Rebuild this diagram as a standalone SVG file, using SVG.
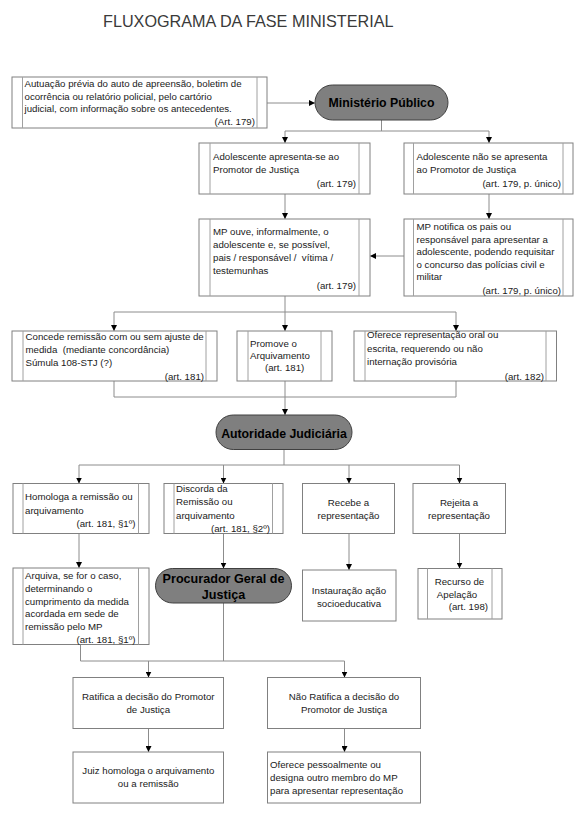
<svg xmlns="http://www.w3.org/2000/svg" width="587" height="815" viewBox="0 0 587 815">
<style>
text{font-family:'Liberation Sans',Arial,sans-serif;font-size:9.7px;fill:#1a1a1a;white-space:pre}
.t{font-size:16.2px;fill:#3a3a3a}
.b{fill:#fff;stroke:#808080;stroke-width:1}
.il{stroke:#a0a0a0;stroke-width:1}
.p{fill:#7f7f7f;stroke:#404040;stroke-width:1}
.pt{font-weight:bold;font-size:12.3px;fill:#000;text-anchor:middle}
.pg{font-size:12.6px}
.c{text-anchor:middle}
.e{text-anchor:end}
.cn path{fill:none;stroke:#8c8c8c;stroke-width:1}
.cn .a{marker-end:url(#ah)}
</style>
<defs>
<marker id="ah" viewBox="0 0 10 10" refX="10" refY="5" markerWidth="6" markerHeight="6" markerUnits="userSpaceOnUse" orient="auto">
<path d="M0,0 L10,5 L0,10 z" fill="#000"/>
</marker>
</defs>
<rect width="587" height="815" fill="#fff"/>
<text class="t" x="103" y="27">FLUXOGRAMA DA FASE MINISTERIAL</text>

<g class="cn" id="connectors">
<path class="a" d="M267,103 H315"/>
<path d="M381.5,120 V131 M285,131 H489"/>
<path class="a" d="M285,131 V143"/>
<path class="a" d="M489,131 V143"/>
<path class="a" d="M285,194 V219"/>
<path class="a" d="M489,194 V219"/>
<path class="a" d="M404,256 H370"/>
<path d="M285,296 V312 M114,312 H456"/>
<path class="a" d="M114,312 V331"/>
<path class="a" d="M285,312 V331"/>
<path class="a" d="M456,312 V331"/>
<path d="M114,381 V397 H456 V381"/>
<path class="a" d="M285,381 V415"/>
<path d="M284,449 V465 M79,465 H459.5"/>
<path class="a" d="M79,465 V483.5"/>
<path class="a" d="M223.5,465 V483.5"/>
<path class="a" d="M349,465 V483.5"/>
<path class="a" d="M459.5,465 V483.5"/>
<path class="a" d="M79,533.5 V568"/>
<path class="a" d="M223.5,533.5 V568.5"/>
<path class="a" d="M349,533.5 V570"/>
<path class="a" d="M459.5,533.5 V568.5"/>
<path d="M80.5,644.5 V661 H344.5 M223.5,603 V661"/>
<path class="a" d="M148.5,661 V677.5"/>
<path class="a" d="M344.5,661 V677.5"/>
<path class="a" d="M148.5,728.5 V752"/>
<path class="a" d="M344.5,728.5 V752"/>
</g>

<g id="n-autuacao">
<rect class="b" x="12" y="77" width="255" height="51"/>
<path class="il" d="M22.5,77 V128 M257,77 V128"/>
<text x="24.5" y="87">Autuação prévia do auto de apreensão, boletim de</text>
<text x="24.5" y="99.5">ocorrência ou relatório policial, pelo cartório</text>
<text x="24.5" y="112">judicial, com informação sobre os antecedentes.</text>
<text class="e" x="255" y="125">(Art. 179)</text>
</g>

<g id="n-ministerio-publico">
<rect class="p" x="315" y="85" width="133" height="35" rx="17.5"/>
<text class="pt" x="381.5" y="107">Ministério Público</text>
</g>

<g id="n-apresenta">
<rect class="b" x="199" y="143" width="171" height="51"/>
<path class="il" d="M210,143 V194 M359,143 V194"/>
<text x="213" y="159.5">Adolescente apresenta-se ao</text>
<text x="213" y="172.5">Promotor de Justiça</text>
<text class="e" x="356" y="187">(art. 179)</text>
</g>

<g id="n-nao-apresenta">
<rect class="b" x="404" y="143" width="169" height="51"/>
<path class="il" d="M413.5,143 V194 M563,143 V194"/>
<text x="416.5" y="159.5">Adolescente não se apresenta</text>
<text x="416.5" y="172.5">ao Promotor de Justiça</text>
<text class="e" x="561" y="187">(art. 179, p. único)</text>
</g>

<g id="n-mp-ouve">
<rect class="b" x="199" y="219" width="171" height="77"/>
<path class="il" d="M210,219 V296 M359,219 V296"/>
<text x="213" y="234.5">MP ouve, informalmente, o</text>
<text x="213" y="247.5">adolescente e, se possível,</text>
<text x="213" y="260.5">pais / responsável /  vítima /</text>
<text x="213" y="273.5">testemunhas</text>
<text class="e" x="356" y="289">(art. 179)</text>
</g>

<g id="n-mp-notifica">
<rect class="b" x="404" y="219" width="169" height="77"/>
<path class="il" d="M413.5,219 V296 M563,219 V296"/>
<text x="416.5" y="230">MP notifica os pais ou</text>
<text x="416.5" y="242.5">responsável para apresentar a</text>
<text x="416.5" y="255">adolescente, podendo requisitar</text>
<text x="416.5" y="267.5">o concurso das polícias civil e</text>
<text x="416.5" y="280">militar</text>
<text class="e" x="561" y="293.5">(art. 179, p. único)</text>
</g>

<g id="n-concede">
<rect class="b" x="12" y="331" width="205" height="50"/>
<path class="il" d="M23,331 V381 M206,331 V381"/>
<text x="25.5" y="339.5">Concede remissão com ou sem ajuste de</text>
<text x="25.5" y="353">medida  (mediante concordância)</text>
<text x="25.5" y="366">Súmula 108-STJ (?)</text>
<text class="e" x="204" y="379.5">(art. 181)</text>
</g>

<g id="n-promove">
<rect class="b" x="237" y="331" width="95" height="50"/>
<path class="il" d="M248,331 V381 M321,331 V381"/>
<text x="250" y="347">Promove o</text>
<text x="250" y="359">Arquivamento</text>
<text x="265" y="370.5">(art. 181)</text>
</g>

<g id="n-oferece">
<rect class="b" x="354" y="331" width="202.5" height="50"/>
<path class="il" d="M365,331 V381 M546,331 V381"/>
<text x="367" y="338">Oferece representação oral ou</text>
<text x="367" y="351.5">escrita, requerendo ou não</text>
<text x="367" y="365">internação provisória</text>
<text class="e" x="544" y="379.5">(art. 182)</text>
</g>

<g id="n-autoridade-judiciaria">
<rect class="p" x="216" y="415" width="136" height="34.5" rx="17.25"/>
<text class="pt" x="284" y="437.5">Autoridade Judiciária</text>
</g>

<g id="n-homologa">
<rect class="b" x="13" y="483.5" width="136" height="50"/>
<path class="il" d="M23,483.5 V533.5 M138.5,483.5 V533.5"/>
<text x="25" y="500">Homologa a remissão ou</text>
<text x="25" y="513.5">arquivamento</text>
<text class="e" x="135.5" y="527">(art. 181, §1º)</text>
</g>

<g id="n-discorda">
<rect class="b" x="164" y="483.5" width="119" height="50"/>
<path class="il" d="M174,483.5 V533.5 M272.5,483.5 V533.5"/>
<text x="176" y="491.5">Discorda da</text>
<text x="176" y="505">Remissão ou</text>
<text x="176" y="518.5">arquivamento</text>
<text class="e" x="270" y="531.5">(art. 181, §2º)</text>
</g>

<g id="n-recebe">
<rect class="b" x="302.5" y="483.5" width="92" height="50"/>
<text class="c" x="348.5" y="506">Recebe a</text>
<text class="c" x="348.5" y="519">representação</text>
</g>

<g id="n-rejeita">
<rect class="b" x="413" y="483.5" width="92.5" height="50"/>
<text class="c" x="459" y="506">Rejeita a</text>
<text class="c" x="459" y="519">representação</text>
</g>

<g id="n-arquiva">
<rect class="b" x="13" y="568" width="136" height="76.5"/>
<path class="il" d="M23,568 V644.5 M138.5,568 V644.5"/>
<text x="25" y="578.5">Arquiva, se for o caso,</text>
<text x="25" y="591.5">determinando o</text>
<text x="25" y="604.5">cumprimento da medida</text>
<text x="25" y="617">acordada em sede de</text>
<text x="25" y="630">remissão pelo MP</text>
<text class="e" x="135.5" y="642.5">(art. 181, §1º)</text>
</g>

<g id="n-procurador-geral">
<rect class="p" x="155.5" y="568.5" width="136" height="34.5" rx="17.25"/>
<text class="pt pg" x="223.5" y="583">Procurador Geral de</text>
<text class="pt pg" x="223.5" y="598.5">Justiça</text>
</g>

<g id="n-instauracao">
<rect class="b" x="302.5" y="570" width="93.5" height="51"/>
<text class="c" x="349" y="593.5">Instauração ação</text>
<text class="c" x="349" y="607">socioeducativa</text>
</g>

<g id="n-recurso">
<rect class="b" x="418" y="568.5" width="84" height="50.5"/>
<path class="il" d="M427.5,568.5 V619 M492,568.5 V619"/>
<text class="c" x="459.5" y="584.5">Recurso de</text>
<text class="c" x="457" y="597.5">Apelação</text>
<text class="e" x="488" y="610">(art. 198)</text>
</g>

<g id="n-ratifica">
<rect class="b" x="73" y="677.5" width="150.5" height="51"/>
<text class="c" x="148.3" y="699.5">Ratifica a decisão do Promotor</text>
<text class="c" x="148.3" y="713">de Justiça</text>
</g>

<g id="n-nao-ratifica">
<rect class="b" x="267.5" y="677.5" width="153" height="51"/>
<text class="c" x="344" y="699.5">Não Ratifica a decisão do</text>
<text class="c" x="344" y="713">Promotor de Justiça</text>
</g>

<g id="n-juiz-homologa">
<rect class="b" x="73" y="752" width="150.5" height="51"/>
<text class="c" x="148.3" y="773.5">Juiz homologa o arquivamento</text>
<text class="c" x="148.3" y="787">ou a remissão</text>
</g>

<g id="n-oferece-pessoalmente">
<rect class="b" x="267.5" y="752" width="153" height="51"/>
<text x="270" y="767.5">Oferece pessoalmente ou</text>
<text x="270" y="780.5">designa outro membro do MP</text>
<text x="270" y="793.5">para apresentar representação</text>
</g>
</svg>
